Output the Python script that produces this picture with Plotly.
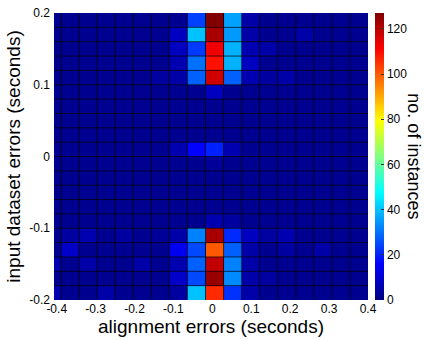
import plotly.graph_objects as go

# bin centres (seconds)
x_centers = [-0.412, -0.3656, -0.3192, -0.2728, -0.2264, -0.18, -0.1336, -0.0872, -0.0408,
             0.0056, 0.052, 0.0984, 0.1448, 0.1912, 0.2376, 0.284, 0.3304, 0.3768]
y_centers = [-0.19, -0.17, -0.15, -0.13, -0.11, -0.09, -0.07, -0.05, -0.03, -0.01,
             0.01, 0.03, 0.05, 0.07, 0.09, 0.11, 0.13, 0.15, 0.17, 0.19]

# counts, rows from bottom (y=-0.19) to top (y=0.19)
row_m019 = [6, 2, 2, 5, 2, 2, 2, 4, 40, 106, 22, 5, 2, 2, 2, 2, 2, 2]
row_m017 = [2, 2, 2, 2, 2, 2, 2, 9, 25, 124, 33, 5, 4, 2, 2, 2, 2, 2]
row_m015 = [6, 2, 5, 2, 2, 5, 2, 6, 28, 119, 32, 5, 2, 2, 2, 2, 2, 2]
row_m013 = [2, 9, 2, 2, 2, 2, 2, 14, 25, 100, 28, 5, 2, 4, 2, 5, 2, 2]
row_m011 = [2, 4, 6, 2, 4, 2, 3, 5, 32, 122, 21, 8, 4, 6, 2, 2, 2, 2]
row_m009 = [2, 2, 2, 2, 2, 2, 2, 2, 2, 6, 4, 2, 2, 2, 2, 2, 2, 2]
row_m007 = [2, 2, 2, 2, 2, 2, 2, 2, 2, 2, 2, 2, 2, 2, 2, 2, 2, 2]
row_m005 = [2, 2, 2, 2, 2, 2, 2, 2, 2, 2, 2, 2, 2, 2, 2, 2, 2, 2]
row_m003 = [2, 2, 2, 2, 2, 2, 2, 2, 2, 2, 2, 2, 2, 2, 2, 2, 2, 2]
row_m001 = [2, 2, 2, 2, 2, 2, 2, 2, 2, 3, 2, 2, 2, 2, 2, 2, 2, 2]
row_p001 = [2, 2, 2, 2, 2, 2, 2, 6, 16, 20, 6, 2, 2, 2, 2, 2, 2, 2]
row_p003 = [2, 2, 2, 2, 2, 2, 2, 2, 2, 2, 2, 2, 2, 2, 2, 2, 2, 2]
row_p005 = [2, 2, 2, 2, 2, 2, 2, 2, 2, 2, 2, 2, 2, 2, 2, 2, 2, 2]
row_p007 = [2, 2, 2, 2, 2, 2, 2, 2, 2, 2, 2, 2, 2, 2, 2, 2, 2, 2]
row_p009 = [2, 2, 2, 2, 2, 2, 2, 2, 2, 8, 2, 2, 2, 2, 2, 2, 2, 2]
row_p011 = [2, 2, 2, 2, 2, 2, 4, 5, 28, 117, 28, 6, 4, 5, 2, 2, 2, 2]
row_p013 = [2, 2, 2, 2, 2, 2, 2, 6, 30, 109, 38, 8, 2, 2, 2, 2, 2, 2]
row_p015 = [2, 2, 2, 2, 2, 2, 2, 8, 23, 113, 38, 6, 5, 2, 2, 2, 2, 2]
row_p017 = [2, 2, 2, 2, 2, 2, 2, 8, 40, 122, 35, 5, 2, 2, 5, 2, 2, 2]
row_p019 = [2, 2, 2, 2, 2, 2, 2, 2, 24, 127, 36, 5, 2, 2, 2, 2, 2, 2]

z = [row_m019, row_m017, row_m015, row_m013, row_m011, row_m009, row_m007, row_m005,
     row_m003, row_m001, row_p001, row_p003, row_p005, row_p007, row_p009, row_p011,
     row_p013, row_p015, row_p017, row_p019]

x_ticks = [-0.4, -0.3, -0.2, -0.1, 0, 0.1, 0.2, 0.3, 0.4]
x_ticklabels = ["-0.4", "-0.3", "-0.2", "-0.1", "0", "0.1", "0.2", "0.3", "0.4"]
y_ticks = [-0.2, -0.1, 0, 0.1, 0.2]
y_ticklabels = ["-0.2", "-0.1", "0", "0.1", "0.2"]
cb_ticks = [0, 20, 40, 60, 80, 100, 120]

X_RANGE = [-0.407, 0.4]
Y_RANGE = [-0.2, 0.2]

jet = [[0.0, "rgb(0,0,128)"], [0.125, "rgb(0,0,255)"], [0.375, "rgb(0,255,255)"],
       [0.625, "rgb(255,255,0)"], [0.875, "rgb(255,0,0)"], [1.0, "rgb(128,0,0)"]]

FONT = "Liberation Sans, Arial, sans-serif"

fig = go.Figure(go.Heatmap(
    x=x_centers, y=y_centers, z=z,
    colorscale=jet, zmin=0, zmax=127,
    colorbar=dict(
        x=1.022, xanchor="left", xpad=0, y=0.5, yanchor="middle",
        len=1.0, lenmode="fraction", thickness=9, ypad=0,
        outlinewidth=0,
        tickvals=cb_ticks, ticks="inside", ticklen=3, tickcolor="#333",
        tickfont=dict(family=FONT, size=12, color="black"),
    ),
))

# cell edges (midpoints between neighbouring bin centres) drawn as faceted grid
x_edges = [(a + b) / 2 for a, b in zip(x_centers[:-1], x_centers[1:])]
y_edges = [(a + b) / 2 for a, b in zip(y_centers[:-1], y_centers[1:])]
gx, gy = [], []
for xe in x_edges:
    gx += [xe, xe, None]
    gy += [Y_RANGE[0], Y_RANGE[1], None]
for ye in y_edges:
    gx += [X_RANGE[0], X_RANGE[1], None]
    gy += [ye, ye, None]
fig.add_trace(go.Scatter(x=gx, y=gy, mode="lines", hoverinfo="skip", showlegend=False,
                         line=dict(color="rgba(0,0,0,0.7)", width=1)))

fig.update_layout(
    width=425, height=340,
    margin=dict(l=54, r=57, t=13, b=40, autoexpand=False),
    paper_bgcolor="white",
    plot_bgcolor="rgb(0,0,128)",
    font=dict(family=FONT, size=12, color="black"),
    xaxis=dict(range=X_RANGE, tickvals=x_ticks, ticktext=x_ticklabels,
               showgrid=False, zeroline=False, ticks="", showline=False,
               tickfont=dict(size=12)),
    yaxis=dict(range=Y_RANGE, tickvals=y_ticks, ticktext=y_ticklabels,
               showgrid=False, zeroline=False, ticks="", showline=False,
               ticklabelstandoff=3, tickfont=dict(size=12)),
    annotations=[
        dict(text="alignment errors (seconds)", xref="paper", yref="paper",
             x=0.5, y=-0.094, xanchor="center", yanchor="middle", showarrow=False,
             font=dict(size=19)),
        dict(text="input dataset errors (seconds)", xref="paper", yref="paper",
             x=-0.13, y=0.5, xanchor="center", yanchor="middle", showarrow=False,
             textangle=-90, font=dict(size=19)),
        dict(text="no. of instances", xref="paper", yref="paper",
             x=1.147, y=0.5, xanchor="center", yanchor="middle", showarrow=False,
             textangle=90, font=dict(size=18)),
    ],
)

fig.write_html("out.html", config={"displayModeBar": False},
               post_script="document.body.style.margin='0px';")
